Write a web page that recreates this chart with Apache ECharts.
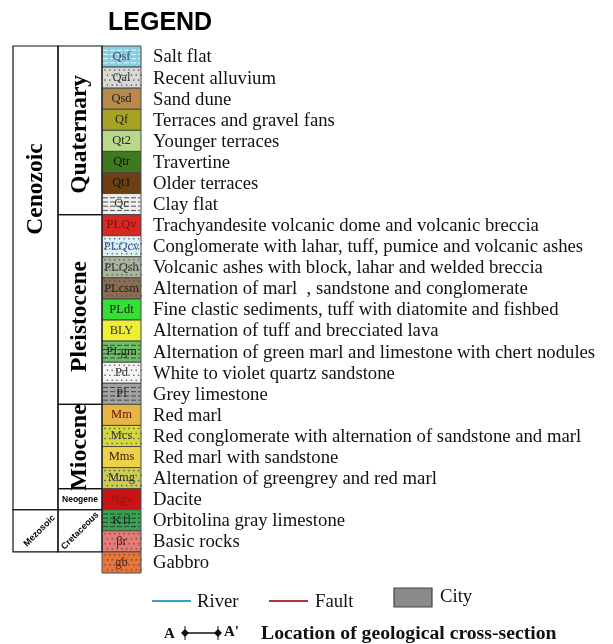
<!DOCTYPE html>
<html>
<head>
<meta charset="utf-8">
<script src="https://cdn.jsdelivr.net/npm/echarts@6/dist/echarts.min.js"></script>
<style>
  html, body { margin: 0; padding: 0; background: #fff; }
  #main { width: 613px; height: 644px; }
</style>
</head>
<body>
<div id="main"></div>
<script>
// legend rows (top to bottom)
var codes = ['Qsf', 'Qal', 'Qsd', 'Qf', 'Qt2', 'Qtr', 'Qt1', 'Qc',
  'PLQv', 'PLQcv', 'PLQsh', 'PLcsm', 'PLdt', 'BLY', 'PLgm', 'Pd', 'Pl',
  'Mm', 'Mcs', 'Mms', 'Mmg', 'Ngv', 'K1l', 'βr', 'gb'];
var descriptions = ['Salt flat', 'Recent alluvium', 'Sand dune', 'Terraces and gravel fans',
  'Younger terraces', 'Travertine', 'Older terraces', 'Clay flat',
  'Trachyandesite volcanic dome and volcanic breccia',
  'Conglomerate with lahar, tuff, pumice and volcanic ashes',
  'Volcanic ashes with block, lahar and welded breccia',
  'Alternation of marl  , sandstone and conglomerate',
  'Fine clastic sediments, tuff with diatomite and fishbed',
  'Alternation of tuff and brecciated lava',
  'Alternation of green marl and limestone with chert nodules',
  'White to violet quartz sandstone', 'Grey limestone',
  'Red marl', 'Red conglomerate with alternation of sandstone and marl',
  'Red marl with sandstone', 'Alternation of greengrey and red marl',
  'Dacite', 'Orbitolina gray limestone', 'Basic rocks', 'Gabbro'];
// era / period spans: [first row, last row]
var eras = ['Cenozoic', 'Mezosoic'];
var eraRows = [[0, 21], [22, 23]];
var periods = ['Quaternary', 'Pleistocene', 'Miocene', 'Neogene', 'Cretaceous'];
var periodRows = [[0, 7], [8, 16], [17, 20], [21, 21], [22, 23]];
var extras = ['River', 'Fault', 'City'];

// swatch styles
var fills = ['#86cfe0', '#d9d9d6', '#b9894c', '#a5a224', '#b9d98a', '#3d7a1c', '#6e3f12', '#eeeeee',
  '#d42a22', '#dff0f4', '#aab59e', '#8c6d4e', '#33e033', '#eeee33', '#6fbf6a', '#f4f4f4', '#a3a3a3',
  '#e8b445', '#d6d640', '#ecd24a', '#cccc55', '#c81414', '#33a552', '#e67b76', '#e8743a'];
var patterns = ['hline', 'dot', 'none', 'none', 'none', 'none', 'none', 'hline',
  'none', 'dot', 'dot', 'dot', 'none', 'none', 'hline', 'dot', 'hline',
  'none', 'dot', 'none', 'dot', 'none', 'hline', 'dot', 'dot'];
var codeColors = ['#23437a', '#333', '#222', '#222', '#222', '#111', '#111', '#333',
  '#7a1010', '#2a5aa0', '#333', '#222', '#222', '#333', '#222', '#333', '#222',
  '#6a1010', '#333', '#3a1a10', '#333', '#a01010', '#222', '#442222', '#552211'];

var SERIF = '"Liberation Serif", "Times New Roman", serif';
var SANS = '"Liberation Sans", Arial, sans-serif';
var COL1 = [13, 58], COL2 = [58, 102], SW = [102, 141], LABEL_X = 153;

function rowBox(api, first, last) {
  var h = api.size([0, 1])[1];
  var y0 = api.coord([0, first])[1] - h / 2;
  var y1 = api.coord([0, last])[1] + h / 2;
  return { y0: y0, y1: y1, h: h };
}

function renderSwatch(params, api) {
  var i = params.dataIndex;
  var b = rowBox(api, api.value(1), api.value(1));
  var x0 = api.coord([SW[0], 0])[0], x1 = api.coord([SW[1], 0])[0];
  var w = x1 - x0, h = b.y1 - b.y0;
  var children = [{
    type: 'rect', shape: { x: x0, y: b.y0, width: w, height: h },
    style: { fill: fills[i], stroke: '#4a4a4a', lineWidth: 1 }
  }];
  if (patterns[i] === 'hline') {
    for (var k = 1; k < 5; k++) {
      children.push({ type: 'line', shape: { x1: x0 + 1, y1: b.y0 + k * h / 5, x2: x1 - 1, y2: b.y0 + k * h / 5 },
        style: { stroke: i === 0 ? '#ffffff' : '#2a2a2a', lineWidth: 0.8, lineDash: [5, 2] } });
    }
  } else if (patterns[i] === 'dot') {
    for (var r = 0; r < 4; r++) {
      for (var c = 0; c < 8; c++) {
        children.push({ type: 'circle', shape: { cx: x0 + 3 + c * 4.8 + (r % 2) * 2.4, cy: b.y0 + 3 + r * 5, r: 0.8 },
          style: { fill: '#555' } });
      }
    }
  }
  children.push({
    type: 'text', x: (x0 + x1) / 2, y: (b.y0 + b.y1) / 2,
    style: { text: codes[i], font: '12.5px ' + SERIF, fill: codeColors[i], align: 'center', verticalAlign: 'middle' }
  });
  children.push({
    type: 'text', x: api.coord([LABEL_X, 0])[0], y: (b.y0 + b.y1) / 2 + 1,
    style: { text: descriptions[i], font: '18.7px ' + SERIF, fill: '#111', align: 'left', verticalAlign: 'middle' }
  });
  return { type: 'group', children: children };
}

function renderSpan(names, col, textStyles) {
  return function (params, api) {
    var i = params.dataIndex;
    var b = rowBox(api, api.value(0), api.value(1));
    var x0 = api.coord([col[0], 0])[0], x1 = api.coord([col[1], 0])[0];
    var ts = textStyles[i];
    var cy = ts.cy != null ? ts.cy : (b.y0 + b.y1) / 2;
    return {
      type: 'group', children: [{
        type: 'rect', shape: { x: x0, y: b.y0, width: x1 - x0, height: b.y1 - b.y0 },
        style: { fill: 'none', stroke: '#111', lineWidth: 1.2 }
      }, {
        type: 'text', x: (x0 + x1) / 2 + (ts.dx || 0), y: cy + (ts.dy || 0), rotation: ts.rot || 0,
        style: { text: names[i], font: ts.font, fill: '#000', align: 'center', verticalAlign: 'middle' }
      }]
    };
  };
}

var eraText = [
  { font: 'bold 23.5px ' + SERIF, rot: Math.PI / 2, cy: 189 },
  { font: 'bold 9px ' + SANS, rot: Math.PI / 4, dx: 4 }
];
var periodText = [
  { font: 'bold 23.5px ' + SERIF, rot: Math.PI / 2, dy: 4 },
  { font: 'bold 23.5px ' + SERIF, rot: Math.PI / 2, dy: 7 },
  { font: 'bold 24px ' + SERIF, rot: Math.PI / 2, dy: 1 },
  { font: 'bold 8.5px ' + SANS },
  { font: 'bold 9px ' + SANS, rot: Math.PI / 4 }
];

var chart = echarts.init(document.getElementById('main'), null, { renderer: 'canvas' });

var option = {
  backgroundColor: '#ffffff',
  animation: false,
  title: {
    text: 'LEGEND', left: 103, top: 6,
    textStyle: { fontFamily: SANS, fontWeight: 'bold', fontSize: 25, color: '#000' }
  },
  grid: { left: 0, right: 0, top: 46, height: 527 },
  xAxis: { type: 'value', min: 0, max: 613, show: false },
  yAxis: { type: 'category', data: codes, inverse: true, show: false },
  series: [{
    type: 'custom', name: 'units',
    data: codes.map(function (c, i) { return [0, i]; }),
    renderItem: renderSwatch
  }, {
    type: 'custom', name: 'eras',
    data: eraRows,
    encode: { x: -1, y: [0, 1] },
    renderItem: renderSpan(eras, COL1, eraText)
  }, {
    type: 'custom', name: 'periods',
    data: periodRows,
    encode: { x: -1, y: [0, 1] },
    renderItem: renderSpan(periods, COL2, periodText)
  }],
  graphic: [
    { type: 'line', shape: { x1: 152, y1: 601, x2: 191, y2: 601 }, style: { stroke: '#3a9fc4', lineWidth: 2 } },
    { type: 'text', x: 197, y: 602, style: { text: extras[0], font: '18.7px ' + SERIF, fill: '#111', verticalAlign: 'middle' } },
    { type: 'line', shape: { x1: 269, y1: 601, x2: 308, y2: 601 }, style: { stroke: '#a8393a', lineWidth: 2 } },
    { type: 'text', x: 315, y: 602, style: { text: extras[1], font: '18.7px ' + SERIF, fill: '#111', verticalAlign: 'middle' } },
    { type: 'rect', shape: { x: 394, y: 588, width: 38, height: 19 }, style: { fill: '#8a8a8a', stroke: '#444', lineWidth: 1.2 } },
    { type: 'text', x: 440, y: 597, style: { text: extras[2], font: '18.7px ' + SERIF, fill: '#111', verticalAlign: 'middle' } },
    { type: 'text', x: 164, y: 634, style: { text: 'A', font: 'bold 15px ' + SERIF, fill: '#111', verticalAlign: 'middle' } },
    { type: 'line', shape: { x1: 182, y1: 633, x2: 218, y2: 633 }, style: { stroke: '#111', lineWidth: 1.5 } },
    { type: 'line', shape: { x1: 185, y1: 626, x2: 185, y2: 640 }, style: { stroke: '#111', lineWidth: 1 } },
    { type: 'line', shape: { x1: 218, y1: 626, x2: 218, y2: 640 }, style: { stroke: '#111', lineWidth: 1 } },
    { type: 'polygon', shape: { points: [[185, 629], [189, 633], [185, 637], [181, 633]] }, style: { fill: '#111' } },
    { type: 'polygon', shape: { points: [[218, 629], [222, 633], [218, 637], [214, 633]] }, style: { fill: '#111' } },
    { type: 'text', x: 224, y: 632, style: { text: "A'", font: 'bold 15px ' + SERIF, fill: '#111', verticalAlign: 'middle' } },
    { type: 'text', x: 261, y: 634, style: { text: 'Location of geological cross-section', font: 'bold 19.7px ' + SERIF, fill: '#111', verticalAlign: 'middle' } }
  ]
};

chart.setOption(option);
</script>
</body>
</html>
